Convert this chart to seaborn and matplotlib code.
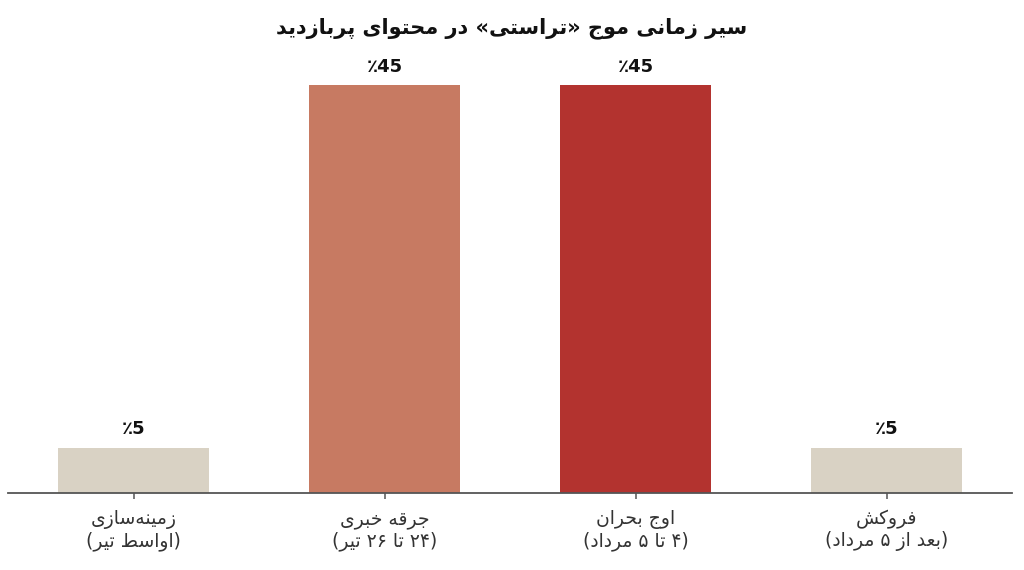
import pandas as pd
import matplotlib
matplotlib.use("Agg")
import matplotlib.pyplot as plt
import seaborn as sns

# chart data
title = "سیر زمانی موج «تراستی» در محتوای پربازدید"
stages = ["زمینه\u200cسازی", "جرقه خبری", "اوج بحران", "فروکش"]
periods = ["(اواسط تیر)", "(۲۴ تا ۲۶ تیر)", "(۴ تا ۵ مرداد)", "(بعد از ۵ مرداد)"]
shares = [5, 45, 45, 5]
bar_colors = ["#d9d2c4", "#c77a62", "#b3332f", "#d9d2c4"]

# matplotlib has no Arabic shaping, so do a small one here
# (isolated, final, initial, medial); right-joining letters only have two
FORMS = {
    "ا": (0xFE8D, 0xFE8E), "ب": (0xFE8F, 0xFE90, 0xFE91, 0xFE92),
    "پ": (0xFB56, 0xFB57, 0xFB58, 0xFB59), "ت": (0xFE95, 0xFE96, 0xFE97, 0xFE98),
    "ج": (0xFE9D, 0xFE9E, 0xFE9F, 0xFEA0), "ح": (0xFEA1, 0xFEA2, 0xFEA3, 0xFEA4),
    "خ": (0xFEA5, 0xFEA6, 0xFEA7, 0xFEA8), "د": (0xFEA9, 0xFEAA),
    "ر": (0xFEAD, 0xFEAE), "ز": (0xFEAF, 0xFEB0),
    "س": (0xFEB1, 0xFEB2, 0xFEB3, 0xFEB4), "ش": (0xFEB5, 0xFEB6, 0xFEB7, 0xFEB8),
    "ط": (0xFEC1, 0xFEC2, 0xFEC3, 0xFEC4), "ع": (0xFEC9, 0xFECA, 0xFECB, 0xFECC),
    "ف": (0xFED1, 0xFED2, 0xFED3, 0xFED4), "ق": (0xFED5, 0xFED6, 0xFED7, 0xFED8),
    "ک": (0xFB8E, 0xFB8F, 0xFB90, 0xFB91), "ل": (0xFEDD, 0xFEDE, 0xFEDF, 0xFEE0),
    "م": (0xFEE1, 0xFEE2, 0xFEE3, 0xFEE4), "ن": (0xFEE5, 0xFEE6, 0xFEE7, 0xFEE8),
    "ه": (0xFEE9, 0xFEEA, 0xFEEB, 0xFEEC), "و": (0xFEED, 0xFEEE),
    "ی": (0xFBFC, 0xFBFD, 0xFBFE, 0xFBFF),
}
MIRROR = {"(": ")", ")": "(", "«": "»", "»": "«"}


def shape(text):
    out = []
    for i, ch in enumerate(text):
        if ch not in FORMS:
            if ch != "\u200c":
                out.append(MIRROR.get(ch, ch))
            continue
        prev = text[i - 1] if i > 0 else ""
        nxt = text[i + 1] if i + 1 < len(text) else ""
        join_prev = prev in FORMS and len(FORMS[prev]) == 4
        join_next = len(FORMS[ch]) == 4 and nxt in FORMS
        forms = FORMS[ch]
        if join_prev and join_next:
            code = forms[3]
        elif join_prev:
            code = forms[1]
        elif join_next:
            code = forms[2]
        else:
            code = forms[0]
        out.append(chr(code))
    # visual order: reverse, but keep digit runs left to right
    runs, cur = [], ""
    for ch in out:
        if ch.isdigit():
            cur += ch
        else:
            if cur:
                runs.append(cur)
                cur = ""
            runs.append(ch)
    if cur:
        runs.append(cur)
    return "".join(reversed(runs))


labels = [shape(s) + "\n" + shape(p) for s, p in zip(stages, periods)]
df = pd.DataFrame({"stage": labels, "share": shares})

plt.rcParams["font.family"] = ["DejaVu Sans"]
fig = plt.figure(figsize=(10.24, 5.7), dpi=100)
ax = fig.add_axes([8 / 1024, 77 / 570, 1004 / 1024, 453 / 570])

sns.barplot(data=df, x="stage", y="share", hue="stage", palette=bar_colors,
            width=0.6, legend=False, ax=ax, saturation=1)

for i, v in enumerate(shares):
    ax.annotate(f"٪{v}", (i, v), xytext=(0, 7), textcoords="offset points",
                ha="center", va="bottom", fontsize=13, fontweight="bold", color="#111111")

ax.set_xlim(-0.5, 3.5)
ax.set_ylim(0, 50)
ax.set_xlabel("")
ax.set_ylabel("")
ax.set_yticks([])
for side in ["top", "right", "left"]:
    ax.spines[side].set_visible(False)
ax.spines["bottom"].set_color("#555555")
ax.spines["bottom"].set_linewidth(1.3)
ax.tick_params(axis="x", length=4, width=1.1, color="#555555", labelsize=13.5,
               labelcolor="#333333", pad=8)
for lbl in ax.get_xticklabels():
    lbl.set_linespacing(1.15)

fig.text(0.5, 1 - 28 / 570, shape(title), ha="center", va="center",
         fontsize=15, fontweight="bold", color="#111111")

fig.savefig("out.png", dpi=100)
